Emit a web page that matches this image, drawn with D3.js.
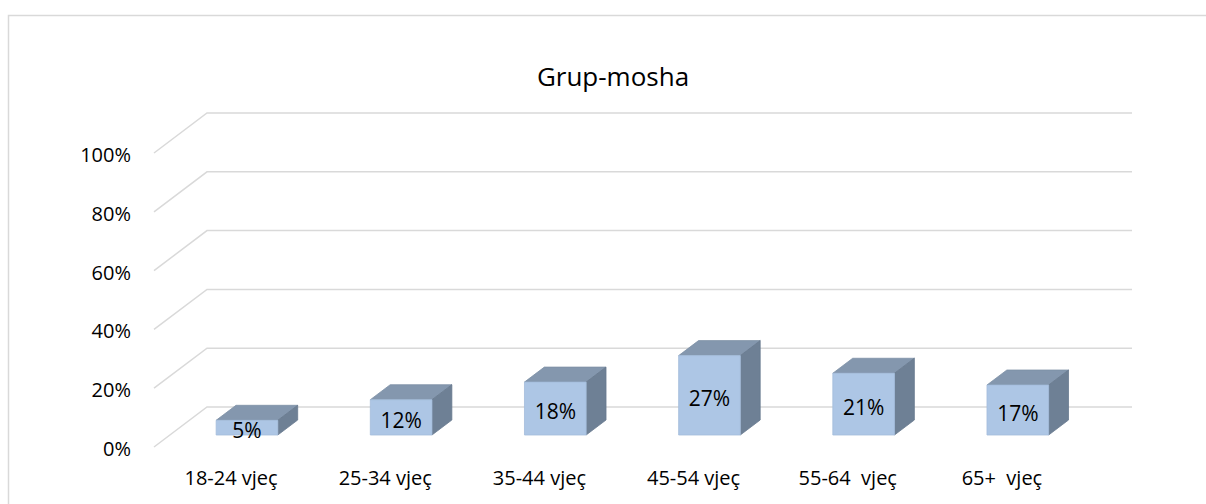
<!DOCTYPE html>
<html>
<head>
<meta charset="utf-8">
<script src="https://cdn.jsdelivr.net/npm/d3@7"></script>
<style>
  body { margin: 0; background: #fff; }
  text { font-family: "Open Sans", sans-serif; fill: #000; }
</style>
</head>
<body>
<div id="plot"></div>
<script>
var categories = ["18-24 vjeç", "25-34 vjeç", "35-44 vjeç", "45-54 vjeç", "55-64  vjeç", "65+  vjeç"];
var values = [5, 12, 18, 27, 21, 17];
var yTicks = [0, 20, 40, 60, 80, 100];
var title = "Grup-mosha";

var W = 1206, H = 504;
var DX = 53, DY = 40;      // depth of the floor
var z0 = 0.3, z1 = 0.675;  // bar position inside the depth

var svg = d3.select("#plot")
  .append("svg")
    .attr("width", W)
    .attr("height", H);

// chart border
svg.append("rect")
  .attr("x", 8.5).attr("y", 15.5)
  .attr("width", 1220).attr("height", 520)
  .attr("fill", "none")
  .attr("stroke", "#d9d9d9")
  .attr("stroke-width", 1.5);

svg.append("text")
  .attr("x", 613)
  .attr("y", 86)
  .attr("text-anchor", "middle")
  .style("font-size", "26px")
  .text(title);

var x = d3.scaleBand()
    .domain(categories)
    .range([154, 1079]);

var y = d3.scaleLinear()
    .domain([0, 100])
    .range([447, 153]);

function proj(px, v, z) {
  return [px + z * DX, y(v) - z * DY];
}

// gridlines: side diagonal + back wall
var x0 = x.range()[0], x1 = x.range()[1];
svg.append("g")
  .selectAll("polyline")
  .data(yTicks)
  .enter()
  .append("polyline")
    .attr("points", function(t) {
      return [proj(x0, t, 0), proj(x0, t, 1), proj(x1, t, 1)].map(function(p) { return p.join(","); }).join(" ");
    })
    .attr("fill", "none")
    .attr("stroke", "#d9d9d9")
    .attr("stroke-width", 1.5);

// y axis labels
var yAxis = svg.append("g")
    .attr("transform", "translate(139,2)")
    .call(d3.axisLeft(y).tickValues(yTicks).tickSize(0).tickPadding(8).tickFormat(function(d) { return d + "%"; }));
yAxis.select(".domain").remove();
yAxis.selectAll("text")
    .style("font-size", "20px")
    .style("font-family", "'Open Sans', sans-serif")
    .attr("fill", "#000");

// category labels
svg.append("g")
  .selectAll("text")
  .data(categories)
  .enter()
  .append("text")
    .attr("x", function(d) { return x(d) + x.bandwidth() / 2; })
    .attr("y", 485)
    .attr("text-anchor", "middle")
    .style("font-size", "20px")
    .style("white-space", "pre")
    .attr("xml:space", "preserve")
    .text(function(d) { return d; });

// bars
var bw = x.bandwidth() * 0.4;
var bars = svg.append("g")
  .selectAll("g")
  .data(values)
  .enter()
  .append("g");

function pts(arr) { return arr.map(function(p) { return p.join(","); }).join(" "); }

bars.append("polygon")  // top
  .attr("points", function(v, i) {
    var l = x(categories[i]) + (x.bandwidth() - bw) / 2, r = l + bw;
    return pts([proj(l, v, z0), proj(r, v, z0), proj(r, v, z1), proj(l, v, z1)]);
  })
  .attr("fill", "#8497ae")
  .attr("stroke", "#7d90a6")
  .attr("stroke-width", 0.8);

bars.append("polygon")  // side
  .attr("points", function(v, i) {
    var r = x(categories[i]) + (x.bandwidth() + bw) / 2;
    return pts([proj(r, 0, z0), proj(r, v, z0), proj(r, v, z1), proj(r, 0, z1)]);
  })
  .attr("fill", "#6e8095")
  .attr("stroke", "#687a8f")
  .attr("stroke-width", 0.8);

bars.append("polygon")  // front
  .attr("points", function(v, i) {
    var l = x(categories[i]) + (x.bandwidth() - bw) / 2, r = l + bw;
    return pts([proj(l, 0, z0), proj(r, 0, z0), proj(r, v, z0), proj(l, v, z0)]);
  })
  .attr("fill", "#adc6e5")
  .attr("stroke", "#a3bcdb")
  .attr("stroke-width", 0.8);

bars.append("text")
  .attr("x", function(v, i) { return x(categories[i]) + x.bandwidth() / 2 + z0 * DX; })
  .attr("y", function(v) { return (y(0) + y(v)) / 2 - z0 * DY + 5; })
  .attr("text-anchor", "middle")
  .attr("dominant-baseline", "middle")
  .style("font-size", "21px")
  .text(function(v) { return v + "%"; });
</script>
</body>
</html>
